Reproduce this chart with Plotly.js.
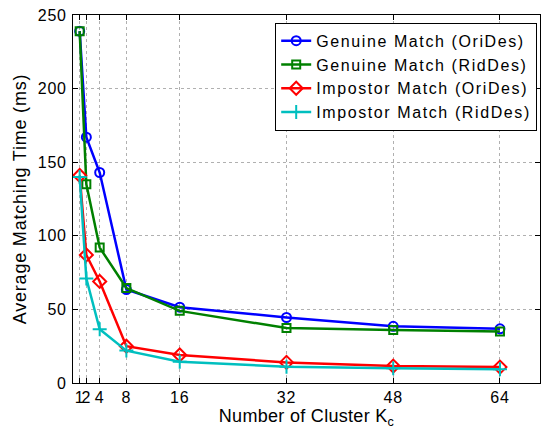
<!DOCTYPE html>
<html>
<head>
<meta charset="utf-8">
<script src="https://cdn.plot.ly/plotly-3.0.1.min.js"></script>
<style>
html,body{margin:0;padding:0;background:#fff;}
#chart{width:550px;height:430px;}
.legendtext{letter-spacing:1.6px;}
.ytitle{letter-spacing:0.8px;}
.xtitle{letter-spacing:0.3px;}
.xtick text,.ytick text{letter-spacing:0.8px;}
</style>
</head>
<body>
<div id="chart"></div>
<script>
var clusters = [1, 2, 4, 8, 16, 32, 48, 64];
var genuineOri = [239, 167, 143, 63.5, 51.5, 44.5, 38.5, 36.8];
var genuineRid = [239, 135, 92, 64.5, 49, 37.3, 36, 35];
var impostorOri = [141, 87, 69, 25, 19, 14, 11.5, 10.8];
var impostorRid = [140, 71, 36.5, 22, 14.5, 11, 10, 9.3];
var seriesNames = ['Genuine Match (OriDes)', 'Genuine Match (RidDes)', 'Impostor Match (OriDes)', 'Impostor Match (RidDes)'];
var xTicks = [1, 2, 4, 8, 16, 32, 48, 64];
var yTicks = [0, 50, 100, 150, 200, 250];

var colors = ['#0000ff', '#008000', '#ff0000', '#00bfbf'];
var symbols = ['circle-open', 'square-open', 'diamond-open', 'cross-thin-open'];
var sizes = [9, 8, 10, 10];
var data = [genuineOri, genuineRid, impostorOri, impostorRid].map(function (ys, i) {
  return {
    x: clusters, y: ys, name: seriesNames[i], type: 'scatter', mode: 'lines+markers',
    line: {color: colors[i], width: 2.5},
    marker: {symbol: symbols[i], size: sizes[i], color: colors[i], line: {color: colors[i], width: 2}}
  };
});

var fam = 'Liberation Sans, Arial, Helvetica, sans-serif';
var tickFont = {family: fam, size: 16, color: '#000'};
var titleFont = {family: fam, size: 18, color: '#000'};
var legFont = {family: fam, size: 16, color: '#000'};
var layout = {
  width: 550, height: 430,
  margin: {l: 73, r: 10, t: 15, b: 47, autoexpand: false},
  paper_bgcolor: '#fff', plot_bgcolor: '#fff',
  font: tickFont,
  showlegend: true,
  xaxis: {
    range: [0, 70], tickvals: xTicks, ticktext: xTicks.map(String), tickangle: 0,
    ticks: 'inside', ticklen: 5, tickcolor: '#000', mirror: 'ticks',
    showline: true, linecolor: '#000', linewidth: 1,
    showgrid: true, gridcolor: '#b0b0b0', griddash: 'dot', gridwidth: 1,
    zeroline: false, tickfont: tickFont,
    title: {text: 'Number of Cluster K<sub>c</sub>', font: titleFont, standoff: 0}
  },
  yaxis: {
    range: [0, 250], tickvals: yTicks, tickangle: 0,
    ticks: 'inside', ticklen: 5, tickcolor: '#000', mirror: 'ticks',
    showline: true, linecolor: '#000', linewidth: 1,
    showgrid: true, gridcolor: '#b0b0b0', griddash: 'dot', gridwidth: 1,
    zeroline: false, tickfont: tickFont, ticklabelstandoff: 2,
    title: {text: 'Average Matching Time (ms)', font: titleFont, standoff: 6}
  },
  legend: {
    x: 0.994, y: 0.979, xanchor: 'right', yanchor: 'top',
    bgcolor: '#fff', bordercolor: '#000', borderwidth: 1,
    font: legFont, tracegroupgap: 0
  }
};
Plotly.newPlot('chart', data, layout, {displayModeBar: false, staticPlot: true});
</script>
</body>
</html>
